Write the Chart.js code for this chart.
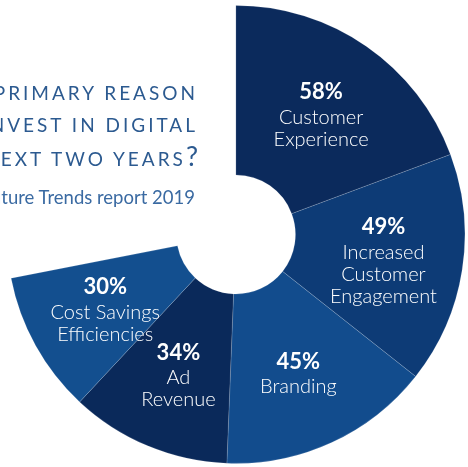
<!DOCTYPE html>
<html lang="en">
<head>
<meta charset="UTF-8">
<title>Primary reason to invest in digital</title>
<script src="https://cdn.jsdelivr.net/npm/chart.js@4.4.1/dist/chart.umd.min.js"></script>
<style>
    html, body { margin: 0; padding: 0; background: #fff; overflow: hidden; }
    .wrap { position: relative; width: 468px; height: 467px; overflow: hidden; }
    #chart { position: absolute; left: 0; top: 0; }
    .heading {
        position: absolute; right: 273px; top: 77px;
        white-space: nowrap; text-align: right;
        font-family: Lato, sans-serif; font-size: 19px; line-height: 31.5px;
        letter-spacing: 3px; margin-right: -3px; color: #2c5a90;
    }
    .heading .q { font-size: 27px; letter-spacing: 0; }
    .source {
        position: absolute; right: 273px; top: 186px;
        white-space: nowrap; text-align: right;
        font-family: Lato, sans-serif; font-size: 18.5px; color: #3a6aa2;
    }
</style>
</head>
<body>
<div class="wrap">
    <canvas id="chart" width="468" height="467"></canvas>
    <div class="heading">PRIMARY REASON<br>TO INVEST IN DIGITAL<br>NEXT TWO YEARS<span class="q">?</span></div>
    <div class="source">Future Trends report 2019</div>
</div>
<script>
    // data
    const categories = ['Customer Experience', 'Increased Customer Engagement', 'Branding', 'Ad Revenue', 'Cost Savings Efficiencies'];
    const labelLines = [
        ['Customer', 'Experience'],
        ['Increased', 'Customer', 'Engagement'],
        ['Branding'],
        ['Ad', 'Revenue'],
        ['Cost Savings', 'Efficiencies']
    ];
    const values = [58, 49, 45, 34, 30];
    const sliceColors = ['#0b2a5c', '#0d3b76', '#124c8d', '#0a295a', '#134f8f'];

    // draw the % and the name inside every slice
    const sliceLabels = {
        id: 'sliceLabels',
        afterDatasetsDraw(chart) {
            const ctx = chart.ctx;
            const meta = chart.getDatasetMeta(0);
            meta.data.forEach((arc, i) => {
                const p = arc.getProps(['x', 'y', 'startAngle', 'endAngle', 'innerRadius', 'outerRadius'], true);
                const mid = (p.startAngle + p.endAngle) / 2;
                const r = p.innerRadius + (p.outerRadius - p.innerRadius) * 0.53;
                const cx = p.x + Math.cos(mid) * r;
                const cy = p.y + Math.sin(mid) * r + 4;
                const lines = labelLines[i];
                const blockH = 25 + (lines.length - 1) * 22;
                let y = cy - blockH / 2;
                ctx.save();
                ctx.fillStyle = '#fff';
                ctx.textAlign = 'center';
                ctx.textBaseline = 'middle';
                ctx.font = 'bold 22px Lato, sans-serif';
                ctx.fillText(values[i] + '%', cx, y);
                ctx.font = '300 20px Lato, sans-serif';
                y += 25;
                lines.forEach(l => {
                    ctx.fillText(l, cx, y);
                    y += 22;
                });
                ctx.restore();
            });
        }
    };

    new Chart(document.getElementById('chart'), {
        type: 'doughnut',
        data: {
            labels: categories,
            datasets: [{
                data: values,
                backgroundColor: sliceColors,
                borderColor: 'rgba(255,255,255,0.25)',
                borderWidth: 0.6
            }]
        },
        options: {
            responsive: false,
            animation: false,
            rotation: 0,
            circumference: 259,
            radius: 229,
            cutout: '26%',
            layout: { padding: { left: 8, right: 0, top: 2, bottom: 0 } },
            plugins: {
                legend: { display: false },
                tooltip: { enabled: false }
            }
        },
        plugins: [sliceLabels]
    });
</script>
</body>
</html>
